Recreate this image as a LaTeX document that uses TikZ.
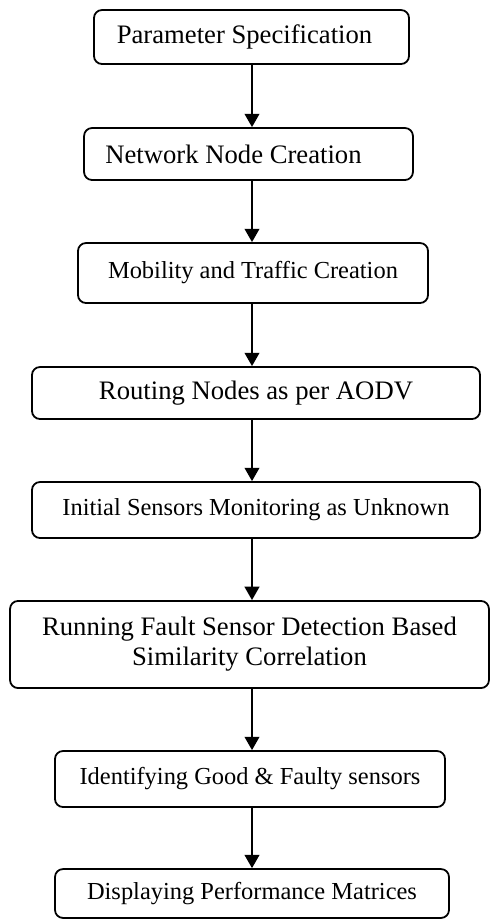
\documentclass[tikz,border=0pt]{standalone}
\usepackage{fontspec}
\setmainfont{Liberation Serif}
\usepackage{tikz}
\usetikzlibrary{arrows.meta}

\tikzset{
  stage/.style={draw, line width=0.8pt, rounded corners=3.6pt, align=center,
    inner sep=0pt, font=\fontsize{12pt}{13.5pt}\selectfont},
  smallstage/.style={stage, font=\fontsize{11pt}{13pt}\selectfont},
  flow/.style={line width=0.9pt, -{Triangle[width=6.6pt,length=6pt]}}
}

\begin{document}
\begin{tikzpicture}[x=0.45pt, y=-0.45pt]
    \useasboundingbox (0,0) rectangle (490,922);
    \coordinate (ax) at (252,0);
    \node[stage, minimum width=141.75pt, minimum height=24.3pt] (spec) at (251.5,37)
      {Parameter Specification\hspace*{6.3pt}};
    \node[stage, minimum width=148pt, minimum height=23.4pt] (create) at (248.5,154)
      {Network Node Creation\hspace*{13.5pt}};
    \node[smallstage, minimum width=157.5pt, minimum height=27pt] (mobility) at (253,273)
      {Mobility and Traffic Creation};
    \node[stage, minimum width=201.6pt, minimum height=23.4pt] (routing) at (256,393)
      {Routing Nodes as per AODV};
    \node[smallstage, minimum width=201.6pt, minimum height=25.2pt] (monitor) at (256,510)
      {Initial Sensors Monitoring as Unknown};
    \node[stage, minimum width=215.5pt, minimum height=39.2pt] (detect) at (249.5,644.5)
      {Running Fault Sensor Detection Based\\ Similarity Correlation};
    \node[smallstage, minimum width=175.5pt, minimum height=25.2pt] (identify) at (250,779)
      {Identifying Good \& Faulty sensors};
    \node[smallstage, minimum width=177.3pt, minimum height=22pt] (display) at (252,893.5)
      {Displaying Performance Matrices};
    \foreach \a/\b in {spec/create, create/mobility, mobility/routing, routing/monitor,
      monitor/detect, detect/identify, identify/display} {
      \draw[flow] (\a.south -| ax) -- (\b.north -| ax);
    }
  \end{tikzpicture}
\end{document}
